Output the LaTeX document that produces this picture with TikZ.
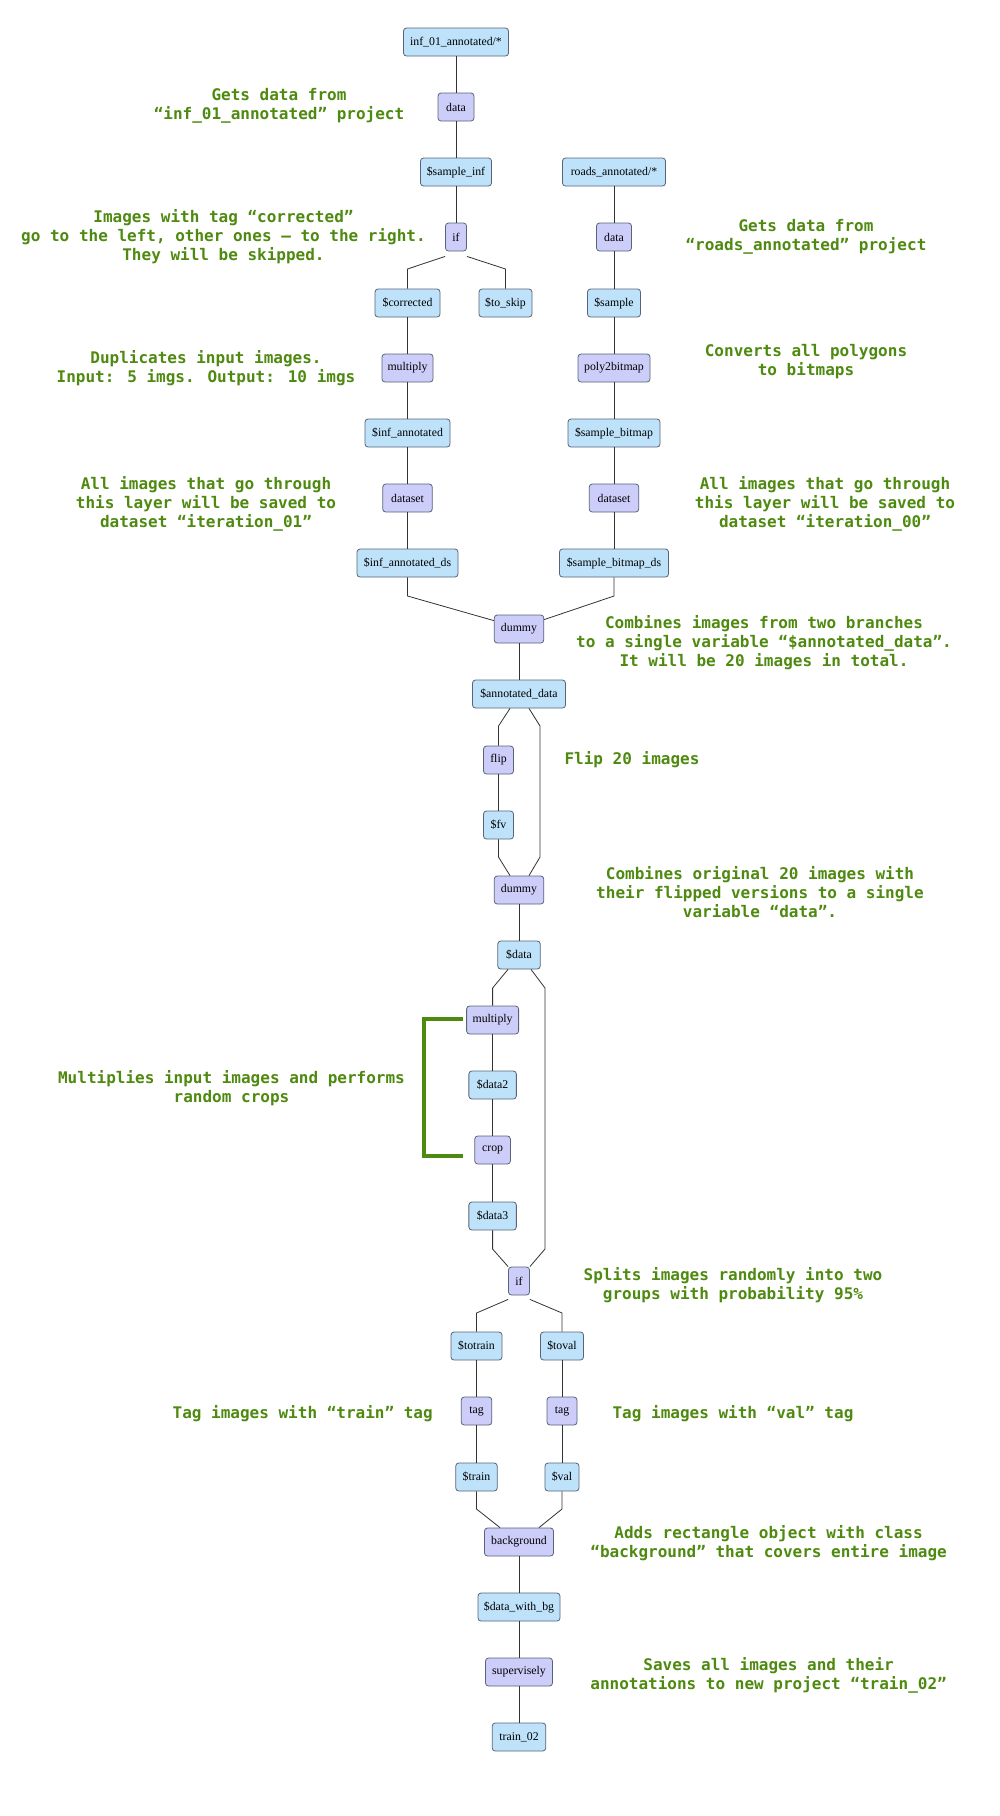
\documentclass[tikz,border=0pt]{standalone}
\usepackage{fontspec}
\setmainfont{Liberation Serif}
\newfontfamily\cmtfont{DejaVu Sans Mono}
\definecolor{varfill}{HTML}{BEE2FA}
\definecolor{opfill}{HTML}{CDCDFA}
\definecolor{boxline}{HTML}{5A6478}
\definecolor{edgecol}{HTML}{333333}
\definecolor{cmtgreen}{HTML}{4F8A10}
\begin{document}
\begin{tikzpicture}[x=1pt,y=-1pt,
  box/.style={draw=boxline, line width=0.8pt, rounded corners=3pt, minimum height=28pt,
    inner xsep=4pt, inner ysep=0pt, font=\fontsize{11.8}{14}\selectfont},
  var/.style={box, fill=varfill},
  op/.style={box, fill=opfill},
  cmt/.style={text=cmtgreen, align=center, inner sep=0pt,
    font=\cmtfont\bfseries\fontsize{16}{19}\selectfont},
  edge/.style={draw=edgecol, line width=0.8pt},
  brace/.style={draw=cmtgreen, line width=4pt}]
\useasboundingbox (0,0) rectangle (1000,1816);
\fill[white] (0,0) rectangle (1000,1816);

% left/top branch
\node[var, minimum width=105] (inf) at (456,42) {inf\_01\_annotated/*};
\node[op, minimum width=36] (data1) at (456,107) {data};
\node[var, minimum width=71] (sinf) at (456,172) {\$sample\_inf};
\node[op, minimum width=21, inner xsep=2pt] (if1) at (456,237) {if};
\node[var, minimum width=65] (corr) at (407.5,303) {\$corrected};
\node[var, minimum width=53] (skip) at (505.5,303) {\$to\_skip};
\node[op, minimum width=51] (mult1) at (407.5,368) {multiply};
\node[var, minimum width=85] (infa) at (407.5,433) {\$inf\_annotated};
\node[op, minimum width=49.5] (ds1) at (407.5,498) {dataset};
\node[var, minimum width=101] (infads) at (407.5,563) {\$inf\_annotated\_ds};

% right branch
\node[var, minimum width=103] (roads) at (614,172) {roads\_annotated/*};
\node[op, minimum width=35] (data2) at (614,237) {data};
\node[var, minimum width=53] (samp) at (614,303) {\$sample};
\node[op, minimum width=72] (p2b) at (614,368) {poly2bitmap};
\node[var, minimum width=92] (sbm) at (614,433) {\$sample\_bitmap};
\node[op, minimum width=49.5] (ds2) at (614,498) {dataset};
\node[var, minimum width=109] (sbmds) at (614,563) {\$sample\_bitmap\_ds};

% merge
\node[op, minimum width=49.5] (dum1) at (519,629) {dummy};
\node[var, minimum width=93] (annd) at (519,694) {\$annotated\_data};
\node[op, minimum width=30] (flip) at (498.5,760) {flip};
\node[var, minimum width=30] (fv) at (498.5,825) {\$fv};
\node[op, minimum width=49.5] (dum2) at (519,890) {dummy};
\node[var, minimum width=42.5] (dat) at (519,955) {\$data};
\node[op, minimum width=52] (mult2) at (492.6,1020) {multiply};
\node[var, minimum width=47.5] (dat2) at (492.6,1085) {\$data2};
\node[op, minimum width=35.6] (crop) at (492.6,1150) {crop};
\node[var, minimum width=47.5] (dat3) at (492.6,1216) {\$data3};
\node[op, minimum width=21, inner xsep=2pt] (if2) at (519,1281) {if};
\node[var, minimum width=51] (totr) at (476.5,1346) {\$totrain};
\node[var, minimum width=43] (tov) at (562,1346) {\$toval};
\node[op, minimum width=30.5] (tag1) at (476.5,1411) {tag};
\node[op, minimum width=30] (tag2) at (562,1411) {tag};
\node[var, minimum width=41.5] (train) at (476.5,1477) {\$train};
\node[var, minimum width=34] (val) at (562,1477) {\$val};
\node[op, minimum width=69] (bg) at (519,1542) {background};
\node[var, minimum width=82] (dwbg) at (519,1607) {\$data\_with\_bg};
\node[op, minimum width=67] (sup) at (519,1672) {supervisely};
\node[var, minimum width=53.5] (tr02) at (519,1737) {train\_02};

% edges
\draw[edge] (inf) -- (data1);
\draw[edge] (data1) -- (sinf);
\draw[edge] (sinf) -- (if1);
\draw[edge] ([yshift=-5pt]if1.south west) -- (407.5,269) -- (corr.north);
\draw[edge] ([yshift=-5pt]if1.south east) -- (505.5,269) -- (skip.north);
\draw[edge] (corr) -- (mult1);
\draw[edge] (mult1) -- (infa);
\draw[edge] (infa) -- (ds1);
\draw[edge] (ds1) -- (infads);
\draw[edge] (roads) -- (data2);
\draw[edge] (data2) -- (samp);
\draw[edge] (samp) -- (p2b);
\draw[edge] (p2b) -- (sbm);
\draw[edge] (sbm) -- (ds2);
\draw[edge] (ds2) -- (sbmds);
\draw[edge] (infads.south) -- (407.5,596) -- ([yshift=-6pt]dum1.north west);
\draw[edge] (sbmds.south) -- (614,596) -- ([yshift=-5pt]dum1.north east);
\draw[edge] (dum1) -- (annd);
\draw[edge] ([xshift=-9pt]annd.south) -- (498.5,726) -- (flip.north);
\draw[edge] ([xshift=10pt]annd.south) -- (540,726) -- (540,857) -- ([xshift=10pt]dum2.north);
\draw[edge] (flip) -- (fv);
\draw[edge] (fv.south) -- (498.5,857) -- ([xshift=-9pt]dum2.north);
\draw[edge] (dum2) -- (dat);
\draw[edge] ([xshift=-11pt]dat.south) -- (492.6,988) -- (mult2.north);
\draw[edge] ([xshift=12pt]dat.south) -- (545,988) -- (545,1249) -- (if2.north east);
\draw[edge] (mult2) -- (dat2);
\draw[edge] (dat2) -- (crop);
\draw[edge] (crop) -- (dat3);
\draw[edge] (dat3.south) -- (492.6,1249) -- (if2.north west);
\draw[edge] ([yshift=-4pt]if2.south west) -- (476.5,1313) -- (totr.north);
\draw[edge] ([yshift=-4pt]if2.south east) -- (562,1313) -- (tov.north);
\draw[edge] (totr) -- (tag1);
\draw[edge] (tov) -- (tag2);
\draw[edge] (tag1) -- (train);
\draw[edge] (tag2) -- (val);
\draw[edge] (train.south) -- (476.5,1509) -- ([xshift=-19pt]bg.north);
\draw[edge] (val.south) -- (562,1509) -- ([xshift=20pt]bg.north);
\draw[edge] (bg) -- (dwbg);
\draw[edge] (dwbg) -- (sup);
\draw[edge] (sup) -- (tr02);

% bracket
\draw[brace] (463,1019) -- (424,1019) -- (424,1156) -- (463,1156);

% comments
\node[cmt] (c1) at (279,106) {Gets data from\\“inf\_01\_annotated” project};
\node[cmt] (c2) at (223.5,237) {Images with tag “corrected”\\go to the left, other ones – to the right.\\They will be skipped.};
\node[cmt] (c3) at (806,237) {Gets data from\\“roads\_annotated” project};
\node[cmt] (c4) at (206,368) {Duplicates input images.\\Input: 5 imgs. Output: 10 imgs};
\node[cmt] (c5) at (806,362) {Converts all polygons\\to bitmaps};
\node[cmt] (c6) at (206,504) {All images that go through\\this layer will be saved to\\dataset “iteration\_01”};
\node[cmt] (c7) at (825,504) {All images that go through\\this layer will be saved to\\dataset “iteration\_00”};
\node[cmt] (c8) at (764,643) {Combines images from two branches\\to a single variable “\$annotated\_data”.\\It will be 20 images in total.};
\node[cmt] (c9) at (632,760) {Flip 20 images};
\node[cmt] (c10) at (760,892) {Combines original 20 images with\\their flipped versions to a single\\variable “data”.};
\node[cmt] (c11) at (231.5,1088) {Multiplies input images and performs\\random crops};
\node[cmt] (c12) at (733,1285) {Splits images randomly into two\\groups with probability 95\%};
\node[cmt] (c13) at (302.7,1414) {Tag images with “train” tag};
\node[cmt] (c14) at (733,1414) {Tag images with “val” tag};
\node[cmt] (c15) at (768.6,1543) {Adds rectangle object with class\\“background” that covers entire image};
\node[cmt] (c16) at (768.6,1675) {Saves all images and their\\annotations to new project “train\_02”};
\end{tikzpicture}
\end{document}
